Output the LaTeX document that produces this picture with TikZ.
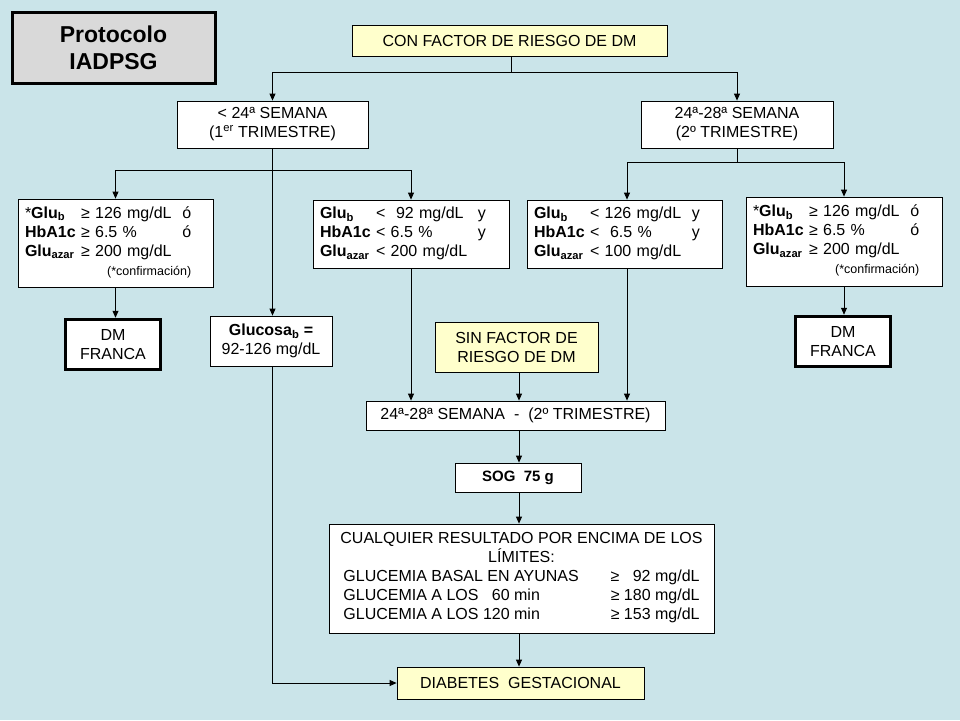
\documentclass[tikz,border=0pt]{standalone}
\usepackage{fontspec}
\setmainfont{Liberation Sans}
\usetikzlibrary{arrows.meta}
\definecolor{bg}{RGB}{202,228,233}
\definecolor{yel}{RGB}{255,255,204}
\definecolor{gry}{RGB}{217,217,217}
\begin{document}
\begin{tikzpicture}[x=1pt,y=-1pt,
 box/.style={draw,fill=white,line width=0.8pt,inner sep=2pt,align=center,font=\fontsize{16}{19}\selectfont},
 ybox/.style={box,fill=yel},
 fbox/.style={box,line width=3.5pt},
 cbox/.style={box,align=left,inner xsep=7pt},
 arr/.style={-{Triangle[length=7pt,width=6pt]},line width=0.8pt},
 ln/.style={line width=0.8pt}]
\fill[bg] (0,0) rectangle (960,720);
\useasboundingbox (0,0) rectangle (960,720);
\def\ge{≥}
\def\conf{\multicolumn{3}{r@{}}{\fontsize{12.5}{15}\selectfont(*confirmación)}}
\node[box,fill=gry,line width=3pt,minimum width=203pt,minimum height=71pt,font=\fontsize{23}{27}\selectfont\bfseries] (t) at (113.5,47.5) {Protocolo\\IADPSG};
\node[ybox,minimum width=315pt,minimum height=31pt] (top) at (509.5,40.5) {CON FACTOR DE RIESGO DE DM};
\node[box,minimum width=191pt,minimum height=47pt] (a) at (272.5,124.5) {< 24ª SEMANA\\(1\textsuperscript{er} TRIMESTRE)};
\node[box,minimum width=192pt,minimum height=47pt] (b) at (737,124.5) {24ª-28ª SEMANA\\(2º TRIMESTRE)};
\node[cbox,text width=181pt,minimum height=88pt] (l1) at (115.5,243) {\begin{tabular}{@{}l@{\ }l@{\ \ }l@{}}*\textbf{Glu\textsubscript{b}} & \ge{} 126 mg/dL & ó\\ *\textbf{HbA1c} & \ge{} 6.5 \% & ó\\ \textbf{Glu\textsubscript{azar}} & \ge{} 200 mg/dL & \\ \conf\end{tabular}};
\node[cbox,text width=182pt,minimum height=68pt] (l2) at (411,234) {\begin{tabular}{@{}l@{\ }l@{\ \ }l@{}}\textbf{Glu\textsubscript{b}} & <\ \ 92 mg/dL & y\\ \textbf{HbA1c} & < 6.5 \% & y\\ \textbf{Glu\textsubscript{azar}} & < 200 mg/dL & \end{tabular}};
\node[cbox,text width=181pt,minimum height=68pt] (r1) at (624.5,234) {\begin{tabular}{@{}l@{\ }l@{\ \ }l@{}}\textbf{Glu\textsubscript{b}} & < 126 mg/dL & y\\ \textbf{HbA1c} & <\ \ 6.5 \% & y\\ \textbf{Glu\textsubscript{azar}} & < 100 mg/dL & \end{tabular}};
\node[cbox,text width=182pt,minimum height=89pt] (r2) at (844,241.5) {\begin{tabular}{@{}l@{\ }l@{\ \ }l@{}}*\textbf{Glu\textsubscript{b}} & \ge{} 126 mg/dL & ó\\ *\textbf{HbA1c} & \ge{} 6.5 \% & ó\\ \textbf{Glu\textsubscript{azar}} & \ge{} 200 mg/dL & \\ \conf\end{tabular}};
\node[fbox,minimum width=95pt,minimum height=50pt] (dm1) at (113,344.5) {DM\\FRANCA};
\node[fbox,minimum width=95pt,minimum height=50pt] (dm2) at (843,341.5) {DM\\FRANCA};
\node[box,minimum width=122pt,minimum height=50pt] (g) at (271,341) {\textbf{Glucosa\textsubscript{b} =}\\92-126 mg/dL};
\node[ybox,minimum width=163pt,minimum height=50pt] (sin) at (516.5,347) {SIN FACTOR DE\\RIESGO DE DM};
\node[box,minimum width=299pt,minimum height=29pt] (s) at (515.5,415.5) {24ª-28ª SEMANA\ \ -\ \ (2º TRIMESTRE)};
\node[box,minimum width=126pt,minimum height=29pt,font=\fontsize{15}{18}\selectfont\bfseries] (sog) at (518,477.5) {SOG\ \ 75 g};
\node[box,minimum width=385pt,minimum height=109pt] (c) at (521.5,578.5) {CUALQUIER RESULTADO POR ENCIMA DE LOS\\LÍMITES:\\\begin{tabular}[t]{@{}l@{\qquad}l@{}}GLUCEMIA BASAL EN AYUNAS & \ge\ \ \ 92 mg/dL\\ GLUCEMIA A LOS\ \ \ 60 min & \ge{} 180 mg/dL\\ GLUCEMIA A LOS 120 min & \ge{} 153 mg/dL\end{tabular}};
\node[ybox,minimum width=247pt,minimum height=32pt] (d) at (520.5,683) {DIABETES\ \ GESTACIONAL};
% connectors
\coordinate (j1) at (511,72);
\draw[ln] (top.south -| j1) -- (j1);
\draw[arr] (j1) -| (a.north);
\draw[arr] (j1) -| (b.north);
\coordinate (j2) at (272,170);
\draw[arr] (a.south) -- (g.north -| a.south);
\draw[arr] (j2) -| (l1.north);
\draw[arr] (j2) -| (l2.north);
\coordinate (j3) at (737,162);
\draw[ln] (b.south) -- (j3);
\draw[arr] (j3) -| (r1.north -| 627,0);
\draw[arr] (j3) -| (r2.north);
\draw[arr] (l1.south) -- (dm1.north -| l1.south);
\draw[arr] (r2.south) -- (dm2.north -| r2.south);
\draw[arr] (l2.south) -- (s.north -| l2.south);
\draw[arr] (sin.south -| 519,0) -- (s.north -| 519,0);
\draw[arr] (r1.south -| 627,0) -- (s.north -| 627,0);
\draw[arr] (s.south -| 519,0) -- (sog.north -| 519,0);
\draw[arr] (sog.south -| 519,0) -- (c.north -| 519,0);
\draw[arr] (c.south -| 519,0) -- (d.north -| 519,0);
\coordinate (j4) at (272,683);
\draw[ln] (g.south -| j4) -- (j4);
\draw[arr] (j4) -- (d.west);
\end{tikzpicture}
\end{document}
